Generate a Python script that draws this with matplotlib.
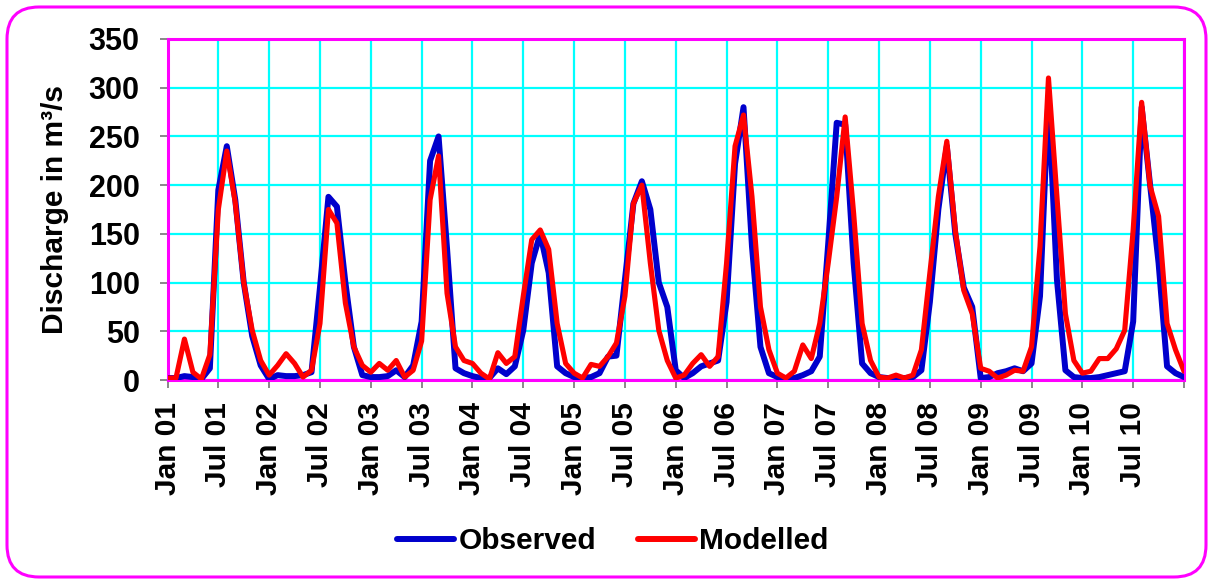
import matplotlib
matplotlib.use("Agg")
import matplotlib.pyplot as plt
from matplotlib.patches import FancyBboxPatch
from matplotlib.lines import Line2D

plt.rcParams['font.family'] = ['Liberation Sans', 'DejaVu Sans']
plt.rcParams['font.weight'] = 'bold'

# Monthly discharge, Jan 2001 .. Jan 2011 (m3/s)
observed = [2, 2, 4, 3, 1, 12, 195, 240, 185, 100, 45, 15,
            1, 5, 4, 4, 5, 8, 95, 188, 178, 100, 34, 5,
            3, 3, 4, 10, 3, 15, 60, 225, 250, 135, 12, 7,
            4, 2, 2, 12, 6, 14, 51, 120, 150, 110, 14, 7,
            3, 2, 3, 7, 24, 25, 103, 181, 204, 175, 100, 75,
            10, 2, 7, 14, 17, 20, 80, 222, 280, 137, 34, 7,
            3, 2, 2, 5, 9, 24, 140, 264, 262, 120, 17, 7,
            3, 2, 2, 2, 3, 10, 80, 175, 240, 150, 95, 75,
            2, 3, 7, 9, 12, 9, 17, 86, 290, 103, 10, 3,
            2, 2, 3, 5, 7, 9, 60, 280, 200, 120, 14, 7,
            3]
modelled = [2, 2, 42, 8, 1, 26, 175, 235, 182, 100, 51, 20,
            5, 15, 27, 17, 3, 10, 58, 175, 161, 79, 34, 15,
            8, 17, 10, 20, 3, 10, 40, 185, 230, 89, 34, 20,
            17, 7, 1, 28, 17, 24, 86, 144, 154, 134, 58, 17,
            7, 2, 16, 14, 24, 38, 86, 181, 200, 120, 51, 20,
            2, 5, 17, 26, 14, 24, 120, 240, 272, 188, 75, 31,
            7, 2, 9, 36, 22, 58, 120, 188, 270, 171, 58, 20,
            3, 2, 5, 2, 5, 31, 110, 188, 245, 154, 92, 68,
            12, 9, 2, 5, 10, 9, 34, 137, 310, 188, 68, 20,
            7, 9, 22, 22, 32, 51, 154, 285, 199, 168, 58, 31,
            9]
tick_labels = ['Jan 01', 'Jul 01', 'Jan 02', 'Jul 02', 'Jan 03', 'Jul 03',
               'Jan 04', 'Jul 04', 'Jan 05', 'Jul 05', 'Jan 06', 'Jul 06',
               'Jan 07', 'Jul 07', 'Jan 08', 'Jul 08', 'Jan 09', 'Jul 09',
               'Jan 10', 'Jul 10', '']
y_ticks = [0, 50, 100, 150, 200, 250, 300, 350]

W, H = 1210, 581
fig = plt.figure(figsize=(W / 100, H / 100), dpi=100)

# outer rounded frame
frame = FancyBboxPatch((7, 4), 1199, 570, boxstyle="round,pad=0,rounding_size=32",
                       transform=None, facecolor='white', edgecolor='#FF00FF',
                       linewidth=2.2, zorder=0)
fig.add_artist(frame)

ax = fig.add_axes([167.5 / W, (H - 380) / H, (1184 - 167.5) / W, (380 - 39) / H])
ax.set_facecolor('none')
months = list(range(len(observed)))
ax.plot(months, observed, color='#0000CC', lw=4.3, solid_capstyle='round',
        solid_joinstyle='round', label='Observed', zorder=3)
ax.plot(months, modelled, color='#FF0000', lw=3.7, solid_capstyle='round',
        solid_joinstyle='round', label='Modelled', zorder=4)

ax.set_xlim(0, 120)
ax.set_ylim(0, 350)
ax.set_xticks(list(range(0, 121, 6)))
ax.set_xticklabels(tick_labels, rotation=90, fontsize=21.5, fontweight='bold')
ax.set_yticks(y_ticks)
ax.set_yticklabels([str(v) for v in y_ticks], fontsize=22, fontweight='bold')
ax.tick_params(axis='both', direction='out', length=6, width=1.4, color='#888888')
ax.tick_params(axis='y', pad=14)
ax.tick_params(axis='x', pad=10)
ax.grid(True, color='#00FFFF', lw=1.6, zorder=1)
ax.set_axisbelow(True)
for s in ax.spines.values():
    s.set_color('#FF00FF')
    s.set_linewidth(2.2)

ax.set_ylabel('Discharge in m³/s', fontsize=21.5, fontweight='bold', labelpad=14)

handles = [Line2D([], [], color='#0000CC', lw=4.3, solid_capstyle='round'),
           Line2D([], [], color='#FF0000', lw=4.3, solid_capstyle='round')]
fig.legend(handles, ['Observed', 'Modelled'], loc='center',
           bbox_to_anchor=(613 / W, 1 - 541 / H), ncol=2, frameon=False,
           prop={'size': 21.5, 'weight': 'bold'}, handlelength=1.9,
           handletextpad=0.15, columnspacing=1.4)

fig.savefig('out.png', dpi=100)
